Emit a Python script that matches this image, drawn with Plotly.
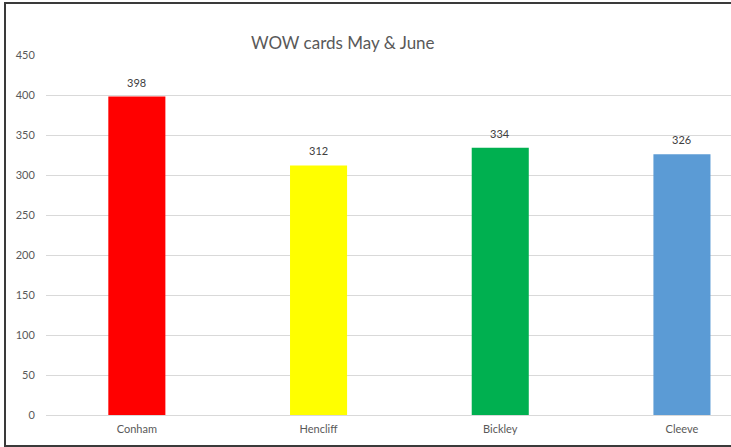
import plotly.graph_objects as go

categories = ["Conham", "Hencliff", "Bickley", "Cleeve"]
values = [398, 312, 334, 326]
bar_colors = ["#FF0000", "#FFFF00", "#00B050", "#5B9BD5"]
y_ticks = [0, 50, 100, 150, 200, 250, 300, 350, 400, 450]
title_text = "WOW cards May & June"

W, H = 731, 447
ML, MR, MT, MB = 46, 0, 55, 32
pw, ph = W - ML - MR, H - MT - MB

FONT = "Lato, 'Liberation Sans', sans-serif"

fig = go.Figure()
fig.add_trace(go.Bar(
    x=list(range(len(categories))),
    y=values,
    width=0.314,
    marker=dict(color=bar_colors, line=dict(width=0)),
    hoverinfo="skip",
))


def px_to_paper_x(px):
    return (px - ML) / pw


def px_to_paper_y(py):
    return (H - MB - py) / ph


annotations = []
for i, v in enumerate(values):
    annotations.append(dict(
        x=i, y=v, xref="x", yref="y", text=str(v), showarrow=False,
        yanchor="bottom", yshift=6,
        font=dict(family=FONT, size=11, color="#404040"),
    ))
annotations.append(dict(
    x=px_to_paper_x(343), y=px_to_paper_y(43), xref="paper", yref="paper",
    text=title_text, showarrow=False, xanchor="center", yanchor="middle",
    font=dict(family=FONT, size=17, color="#595959"),
))

shapes = [dict(
    type="rect", xref="paper", yref="paper",
    x0=px_to_paper_x(5), x1=px_to_paper_x(W + 20),
    y0=px_to_paper_y(446), y1=px_to_paper_y(3),
    line=dict(color="#3a3a3a", width=2), fillcolor="rgba(0,0,0,0)",
    layer="above",
)]

n_vis = pw / 181.7
fig.update_layout(
    width=W, height=H,
    margin=dict(l=ML, r=MR, t=MT, b=MB, pad=0),
    paper_bgcolor="white", plot_bgcolor="white",
    showlegend=False,
    annotations=annotations,
    shapes=shapes,
    xaxis=dict(
        range=[-0.5, -0.5 + n_vis],
        tickmode="array", tickvals=list(range(len(categories))), ticktext=categories,
        showgrid=False, zeroline=False,
        showline=True, linecolor="#d9d9d9", linewidth=1,
        ticks="outside", ticklen=4, tickcolor="rgba(0,0,0,0)",
        tickfont=dict(family=FONT, size=11, color="#595959"),
        fixedrange=True,
    ),
    yaxis=dict(
        range=[0, 450],
        tickmode="array", tickvals=y_ticks,
        showgrid=True, gridcolor="#d9d9d9", gridwidth=1,
        zeroline=False, showline=False,
        ticks="outside", ticklen=8, tickcolor="rgba(0,0,0,0)",
        tickfont=dict(family=FONT, size=11, color="#595959"),
        fixedrange=True,
    ),
)

fig.write_html(
    "out.html",
    config={"displayModeBar": False},
    post_script="document.body.style.margin='0';document.body.style.overflow='hidden';",
)
